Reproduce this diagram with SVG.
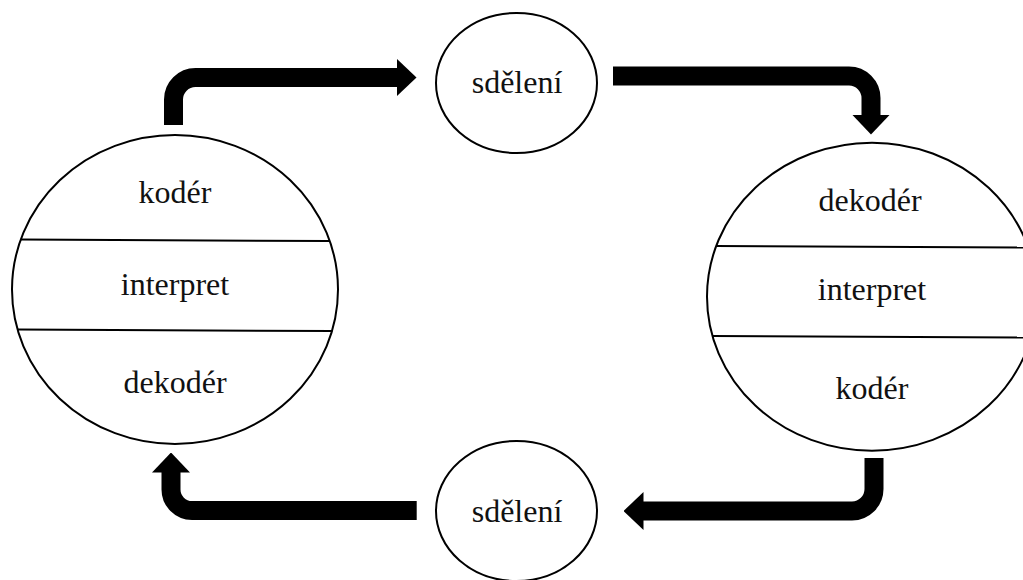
<svg xmlns="http://www.w3.org/2000/svg" width="1023" height="580" viewBox="0 0 1023 580">
  <style>
    .shape { fill: #ffffff; stroke: #000000; stroke-width: 2; }
    .div { stroke: #000000; stroke-width: 2; fill: none; }
    .lbl { font-family: "Liberation Serif", "Times New Roman", serif; font-size: 32px; fill: #111111; text-anchor: middle; }
    .conn { fill: none; stroke: #000000; stroke-width: 19; stroke-linecap: butt; }
  </style>
  <defs>
    <marker id="head" markerUnits="userSpaceOnUse" viewBox="0 0 20 38" markerWidth="20" markerHeight="38" refX="0.5" refY="19" orient="auto">
      <path d="M0,0 L20,19 L0,38 Z" fill="#000000"/>
    </marker>
  </defs>
  <rect width="1023" height="580" fill="#ffffff"/>

  <g id="connectors">
    <path class="conn" d="M173.5,125 V99.5 A22,22 0 0 1 195.5,77.5 H397" marker-end="url(#head)"/>
    <path class="conn" d="M613,76 H849 A22,22 0 0 1 871,98 V115" marker-end="url(#head)"/>
    <path class="conn" d="M874,458 V489 A22,22 0 0 1 852,511 H643" marker-end="url(#head)"/>
    <path class="conn" d="M416.7,510.5 H192 A21,21 0 0 1 171,489.5 V472" marker-end="url(#head)"/>
  </g>

  <g id="sender">
    <ellipse class="shape" cx="175" cy="289.5" rx="163" ry="154.5"/>
    <line class="div" x1="20.6" y1="239.5" x2="329.4" y2="241"/>
    <line class="div" x1="17.7" y1="329.5" x2="332.3" y2="331"/>
    <text class="lbl" x="175" y="203">kodér</text>
    <text class="lbl" x="175" y="295">interpret</text>
    <text class="lbl" x="175" y="393">dekodér</text>
  </g>

  <g id="receiver">
    <ellipse class="shape" cx="872" cy="296.7" rx="165" ry="154"/>
    <line class="div" x1="716" y1="246" x2="1028" y2="247.5"/>
    <line class="div" x1="712.7" y1="336" x2="1031" y2="337.5"/>
    <text class="lbl" x="870" y="210.7">dekodér</text>
    <text class="lbl" x="872" y="300">interpret</text>
    <text class="lbl" x="872" y="399">kodér</text>
  </g>

  <g id="message-top">
    <ellipse class="shape" cx="516.5" cy="83" rx="80.5" ry="70"/>
    <text class="lbl" x="517" y="92.7">sdělení</text>
  </g>

  <g id="message-bottom">
    <ellipse class="shape" cx="516.5" cy="511" rx="80.5" ry="70"/>
    <text class="lbl" x="517" y="521.7">sdělení</text>
  </g>
</svg>
